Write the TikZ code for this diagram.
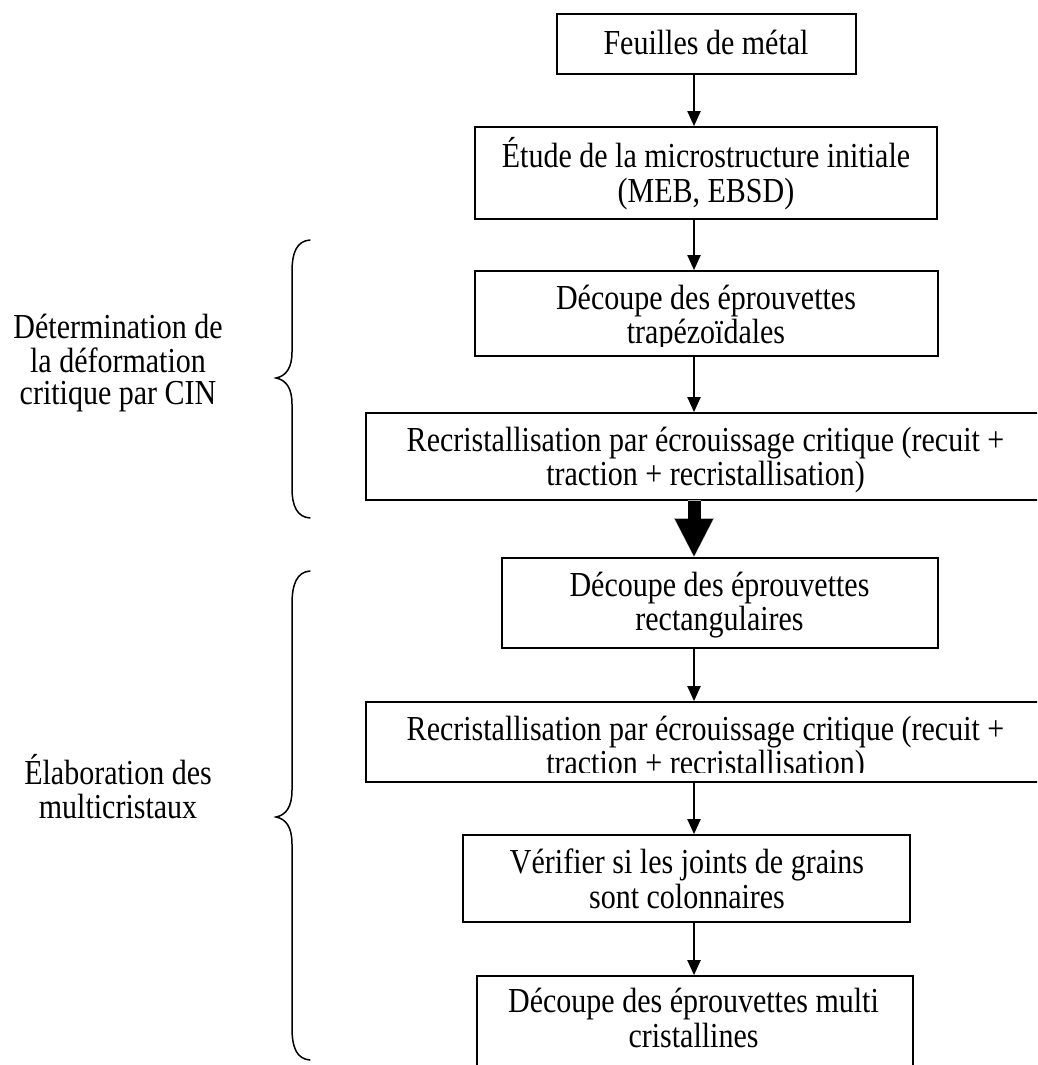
\documentclass[tikz,border=0pt]{standalone}
\usepackage{graphicx}
\usepackage{fontspec}
\setmainfont{Liberation Serif}
\usetikzlibrary{arrows.meta}
\newcommand{\vstr}[1]{\scalebox{1}[1.17]{\begin{tabular}{@{}c@{}}#1\end{tabular}}}
\begin{document}
\begin{tikzpicture}[x=1pt,y=-1pt,
  box/.style={draw, line width=1.7pt, inner sep=0pt},
  txt/.style={inner sep=0pt, align=center, font=\fontsize{30}{29.9}\selectfont},
  lbl/.style={inner sep=0pt, align=center, font=\fontsize{30}{25.64}\selectfont},
  arr/.style={line width=2pt, -{Triangle[width=13pt,length=15pt]}},
  bigarr/.style={line width=13pt, -{Triangle[width=35pt,length=38pt]}},
  bracel/.style={line width=1.5pt, line cap=round}]
\useasboundingbox (0,0) rectangle (1037,1065);
\clip (0,0) rectangle (1037,1065);
\fill[white] (0,0) rectangle (1037,1065);
\coordinate (ax) at (694,0);

% boxes
\node[box, minimum width=299pt, minimum height=60pt] (b1) at (706.5,44) {};
\node[box, minimum width=462pt, minimum height=92pt] (b2) at (706,173) {};
\node[box, minimum width=463pt, minimum height=85pt] (b3) at (706.5,313.5) {};
\node[box, minimum width=680pt, minimum height=87pt] (b4) at (706,456.5) {};
\node[box, minimum width=436pt, minimum height=90pt] (b5) at (720,603) {};
\node[box, minimum width=680pt, minimum height=80pt] (b6) at (706,742) {};
\node[box, minimum width=447pt, minimum height=87pt] (b7) at (686.5,878.5) {};
\node[box, minimum width=436pt, minimum height=124pt] (b8) at (695,1038) {};

% texts
\node[txt] (t1) at (706,48) {\vstr{Feuilles de métal}};
\node[txt] (t2) at (706,175.5) {\vstr{Étude de la microstructure initiale\\(MEB, EBSD)}};
\begin{scope}
  \clip (b3.north west) rectangle ([yshift=10pt]b3.south east);
  \node[txt] (t3) at (706,319.5) {\vstr{Découpe des éprouvettes\\trapézoïdales}};
\end{scope}
\node[txt] (t4) at (705.5,461.5) {\vstr{Recristallisation par écrouissage critique (recuit +\\traction + recristallisation)}};
\node[txt] (t5) at (719.5,606.5) {\vstr{Découpe des éprouvettes\\rectangulaires}};
\begin{scope}
  \clip (b6.north west) rectangle ([yshift=10pt]b6.south east);
  \node[txt] (t6) at (705.5,750.5) {\vstr{Recristallisation par écrouissage critique (recuit +\\traction + recristallisation)}};
\end{scope}
\node[txt] (t7) at (687,883.5) {\vstr{Vérifier si les joints de grains\\sont colonnaires}};
\node[txt] (t8) at (693.5,1022.5) {\vstr{Découpe des éprouvettes multi\\cristallines}};

% arrows
\draw[arr] (b1.south -| ax) -- (b2.north -| ax);
\draw[arr] (b2.south -| ax) -- (b3.north -| ax);
\draw[arr] (b3.south -| ax) -- (b4.north -| ax);
\draw[gray!60, bigarr, -{Triangle[width=37pt,length=40pt]}] ([yshift=1pt]b4.south -| ax) -- ([yshift=-1pt]b5.north -| ax);
\draw[bigarr] (b4.south -| ax) -- (b5.north -| ax);
\draw[arr] (b5.south -| ax) -- (b6.north -| ax);
\draw[arr] (b6.south -| ax) -- (b7.north -| ax);
\draw[arr] (b7.south -| ax) -- (b8.north -| ax);

% left labels
\node[lbl] (l1) at (118,364) {\vstr{Détermination de\\la déformation\\critique par CIN}};
\node[lbl] (l2) at (118,791) {\vstr{Élaboration des\\multicristaux}};

% braces
\draw[bracel] (310,240) .. controls (297,241) and (292,252) .. (292,272)
  -- (292,352) .. controls (292,368) and (286,376) .. (276,378)
  .. controls (286,380) and (292,388) .. (292,404)
  -- (292,488) .. controls (292,506) and (297,517) .. (310,518);
\draw[bracel] (310,571) .. controls (297,572) and (292,584) .. (292,604)
  -- (292,790) .. controls (292,807) and (286,815) .. (276,817)
  .. controls (286,819) and (292,827) .. (292,844)
  -- (292,1028) .. controls (292,1048) and (297,1059) .. (310,1060);
\end{tikzpicture}
\end{document}
